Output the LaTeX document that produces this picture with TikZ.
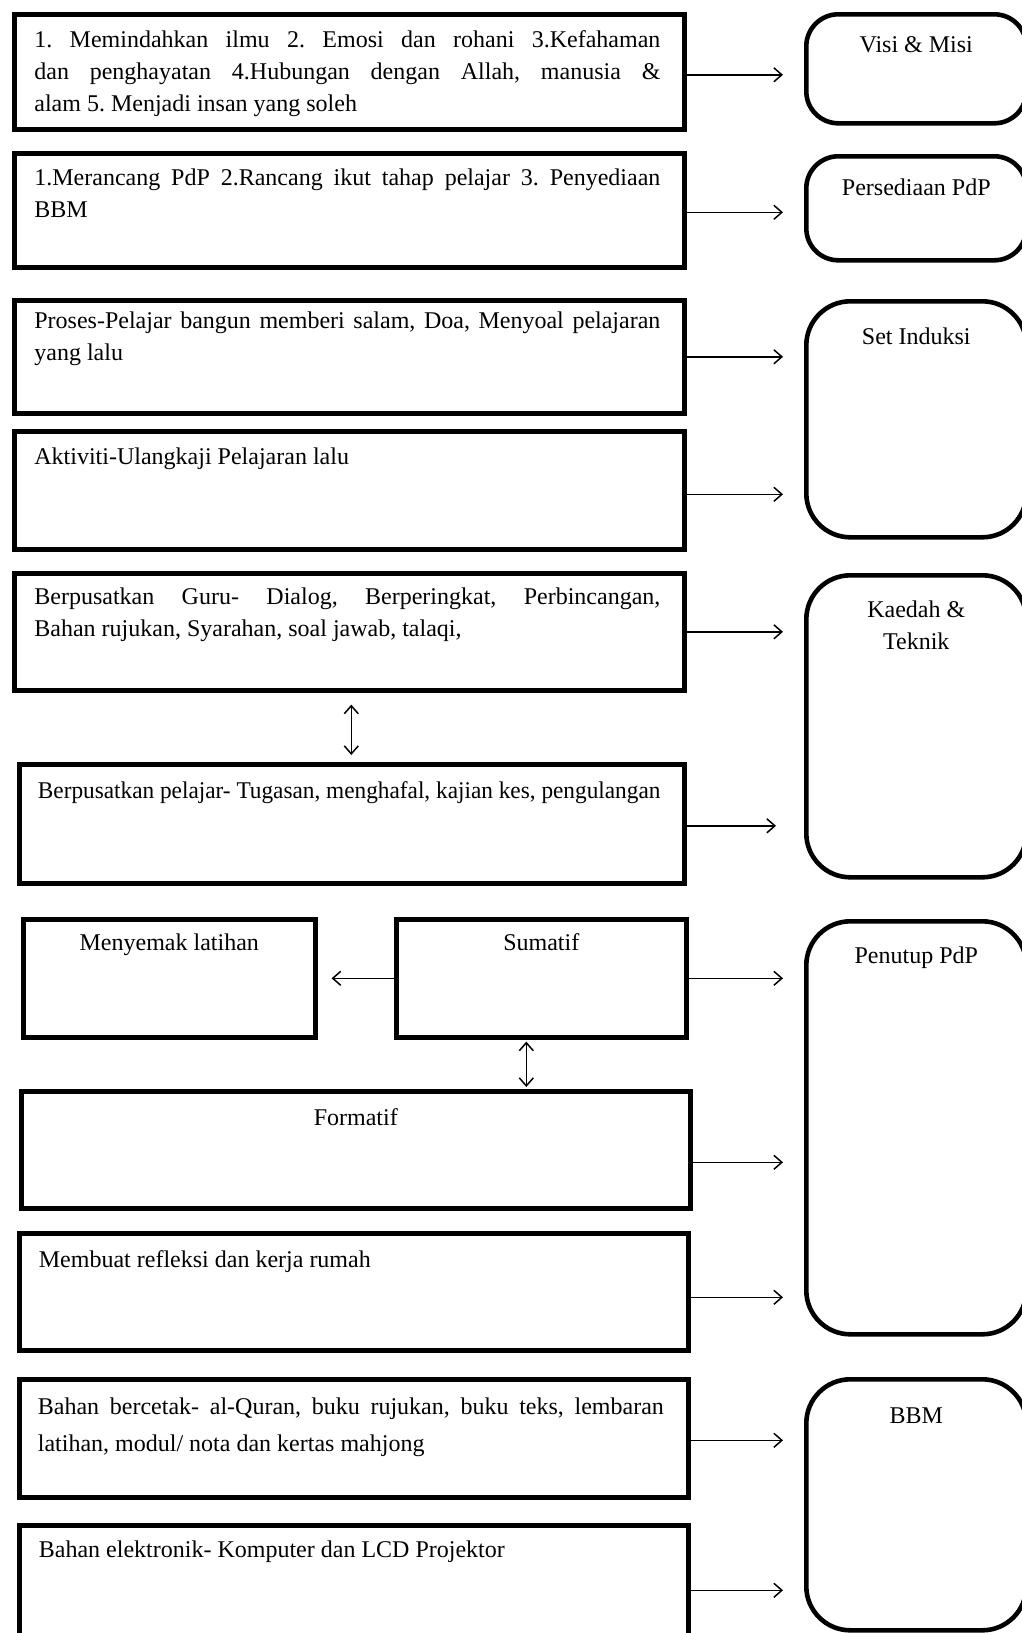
\documentclass[tikz,border=0pt]{standalone}
\usepackage{fontspec}
\setmainfont{Liberation Serif}
\newfontfamily\condserif{Liberation Serif}[FakeStretch=0.97]
\usetikzlibrary{arrows.meta,positioning}
\frenchspacing

\begin{document}
\begin{tikzpicture}[x=0.5pt,y=-0.5pt,
  box/.style={draw, line width=2.3pt, anchor=north west, inner sep=0pt},
  rbox/.style={box, rounded corners=16pt, minimum width=110pt},
  txt/.style={anchor=base west, inner sep=0pt, font=\fontsize{12}{16}\selectfont},
  para/.style={txt, text width=313pt, align=justify, execute at begin node={\tolerance=10000}},
  ctr/.style={txt, anchor=base, align=center},
  arr/.style={line width=0.75pt, -{Straight Barb[length=4pt,width=7pt]}},
  darr/.style={line width=0.75pt, {Straight Barb[length=4pt,width=7pt]}-{Straight Barb[length=4pt,width=7pt]}}]
  \useasboundingbox (0,0) rectangle (1022,1633);
  \clip (0,0) rectangle (1022,1633);

  % Define boxes
  \node[box, minimum width=335pt, minimum height=57.5pt] (b1) at (12,12) {};
  \node[box, minimum width=335pt, minimum height=57pt] (b2) at (12,151) {};
  \node[box, minimum width=335pt, minimum height=56.5pt] (b3) at (12,298) {};
  \node[box, minimum width=335pt, minimum height=59pt] (b4) at (12,429) {};
  \node[box, minimum width=335pt, minimum height=58.5pt] (b5) at (12,571) {};
  \node[box, minimum width=332.5pt, minimum height=59.5pt] (b6) at (17,762) {};
  \node[box, minimum width=146pt, minimum height=59pt] (b7) at (21,917) {};
  \node[box, minimum width=145pt, minimum height=59pt] (b8) at (394,917) {};
  \node[box, minimum width=334.5pt, minimum height=58.5pt] (b9) at (19,1089) {};
  \node[box, minimum width=334.5pt, minimum height=58.5pt] (b10) at (17,1231) {};
  \node[box, minimum width=334.5pt, minimum height=59pt] (b11) at (17,1377) {};
  \node[box, minimum width=334.5pt, minimum height=65pt] (b12) at (17,1523) {};

  \node[rbox, minimum height=54.5pt] (r1) at (804,12) {};
  \node[rbox, minimum height=52pt] (r2) at (804,154) {};
  \node[rbox, rounded corners=22pt, minimum height=118pt] (r3) at (804,299) {};
  \node[rbox, rounded corners=22pt, minimum height=151pt] (r4) at (804,573) {};
  \node[rbox, rounded corners=22pt, minimum height=206.5pt] (r5) at (804,919) {};
  \node[rbox, rounded corners=22pt, minimum height=125.5pt] (r6) at (804,1377) {};

  % Texts
  \node[para] (t1) at ([shift={(22,35)}]b1.north west) {1. Memindahkan ilmu 2. Emosi dan rohani 3.Kefahaman\linebreak dan penghayatan 4.Hubungan dengan Allah, manusia \&\linebreak alam 5. Menjadi insan yang soleh};
  \node[para] (t2) at ([shift={(22,34)}]b2.north west) {1.Merancang PdP 2.Rancang ikut tahap pelajar 3. Penyediaan\linebreak BBM};
  \node[para] (t3) at ([shift={(22,30)}]b3.north west) {Proses-Pelajar bangun memberi salam, Doa, Menyoal pelajaran\linebreak yang lalu};
  \node[txt] (t4) at ([shift={(22,35)}]b4.north west) {Aktiviti-Ulangkaji Pelajaran lalu};
  \node[para] (t5) at ([shift={(22,33)}]b5.north west) {Berpusatkan Guru- Dialog, Berperingkat, Perbincangan,\linebreak Bahan rujukan, Syarahan, soal jawab, talaqi,};
  \node[txt, font=\fontsize{12}{16}\condserif] (t6) at ([shift={(20.5,36)}]b6.north west) {Berpusatkan pelajar- Tugasan, menghafal, kajian kes, pengulangan};
  \node[ctr] (t7) at ([yshift=-16.5pt]b7.north) {Menyemak latihan};
  \node[ctr] (t8) at ([yshift=-16.5pt]b8.north) {Sumatif};
  \node[ctr] (t9) at ([yshift=-18pt]b9.north) {Formatif};
  \node[txt] (t10) at ([shift={(21.5,36)}]b10.north west) {Membuat refleksi dan kerja rumah};
  \node[para, font=\fontsize{12}{18.5}\selectfont] (t11) at ([shift={(20.5,37)}]b11.north west) {Bahan bercetak- al-Quran, buku rujukan, buku teks, lembaran\linebreak latihan, modul/ nota dan kertas mahjong};
  \node[txt] (t12) at ([shift={(21.5,34)}]b12.north west) {Bahan elektronik- Komputer dan LCD Projektor};

  \node[ctr] (s1) at ([yshift=-20pt]r1.north) {Visi \& Misi};
  \node[ctr] (s2) at ([yshift=-20.5pt]r2.north) {Persediaan PdP};
  \node[ctr] (s3) at ([yshift=-22.5pt]r3.north) {Set Induksi};
  \node[ctr] (s4) at ([yshift=-38pt]r4.north) {Kaedah \&\\ Teknik};
  \node[ctr] (s5) at ([yshift=-22pt]r5.north) {Penutup PdP};
  \node[ctr] (s6) at ([yshift=-23pt]r6.north) {BBM};

  % Draw arrows
  \draw[arr, shorten >=10.5pt] ([yshift=-1.5pt]b1.east) -- ([yshift=-1.5pt]b1.east -| r1.west);
  \draw[arr, shorten >=10.5pt] ([yshift=-1pt]b2.east) -- ([yshift=-1pt]b2.east -| r2.west);
  \draw[arr, shorten >=10.5pt] (b3.east) -- (b3.east -| r3.west);
  \draw[arr, shorten >=10.5pt] ([yshift=-2pt]b4.east) -- ([yshift=-2pt]b4.east -| r4.west);
  \draw[arr, shorten >=10.5pt] (b5.east) -- (b5.east -| r4.west);
  \draw[arr, shorten >=14pt] ([yshift=-1pt]b6.east) -- ([yshift=-1pt]b6.east -| r4.west);
  \draw[arr, shorten >=10.5pt] (b8.east) -- (b8.east -| r5.west);
  \draw[arr, shorten >=7pt] (b8.west) -- (b7.east);
  \draw[arr, shorten >=10.5pt] ([yshift=-6.25pt]b9.east) -- ([yshift=-6.25pt]b9.east -| r5.west);
  \draw[arr, shorten >=10.5pt] ([yshift=-2.75pt]b10.east) -- ([yshift=-2.75pt]b10.east -| r5.west);
  \draw[arr, shorten >=10.5pt] ([yshift=-1pt]b11.east) -- ([yshift=-1pt]b11.east -| r6.west);
  \draw[arr, shorten >=10.5pt] (b12.east) -- (b12.east -| r6.west);
  \draw[darr, shorten <=6pt, shorten >=3.5pt] ([xshift=1pt]b5.south) -- ([xshift=1pt]b5.south |- b6.north);
  \draw[darr, shorten <=1pt, shorten >=1pt] ([xshift=-7.5pt]b8.south) -- ([xshift=-7.5pt]b8.south |- b9.north);
\end{tikzpicture}
\end{document}
